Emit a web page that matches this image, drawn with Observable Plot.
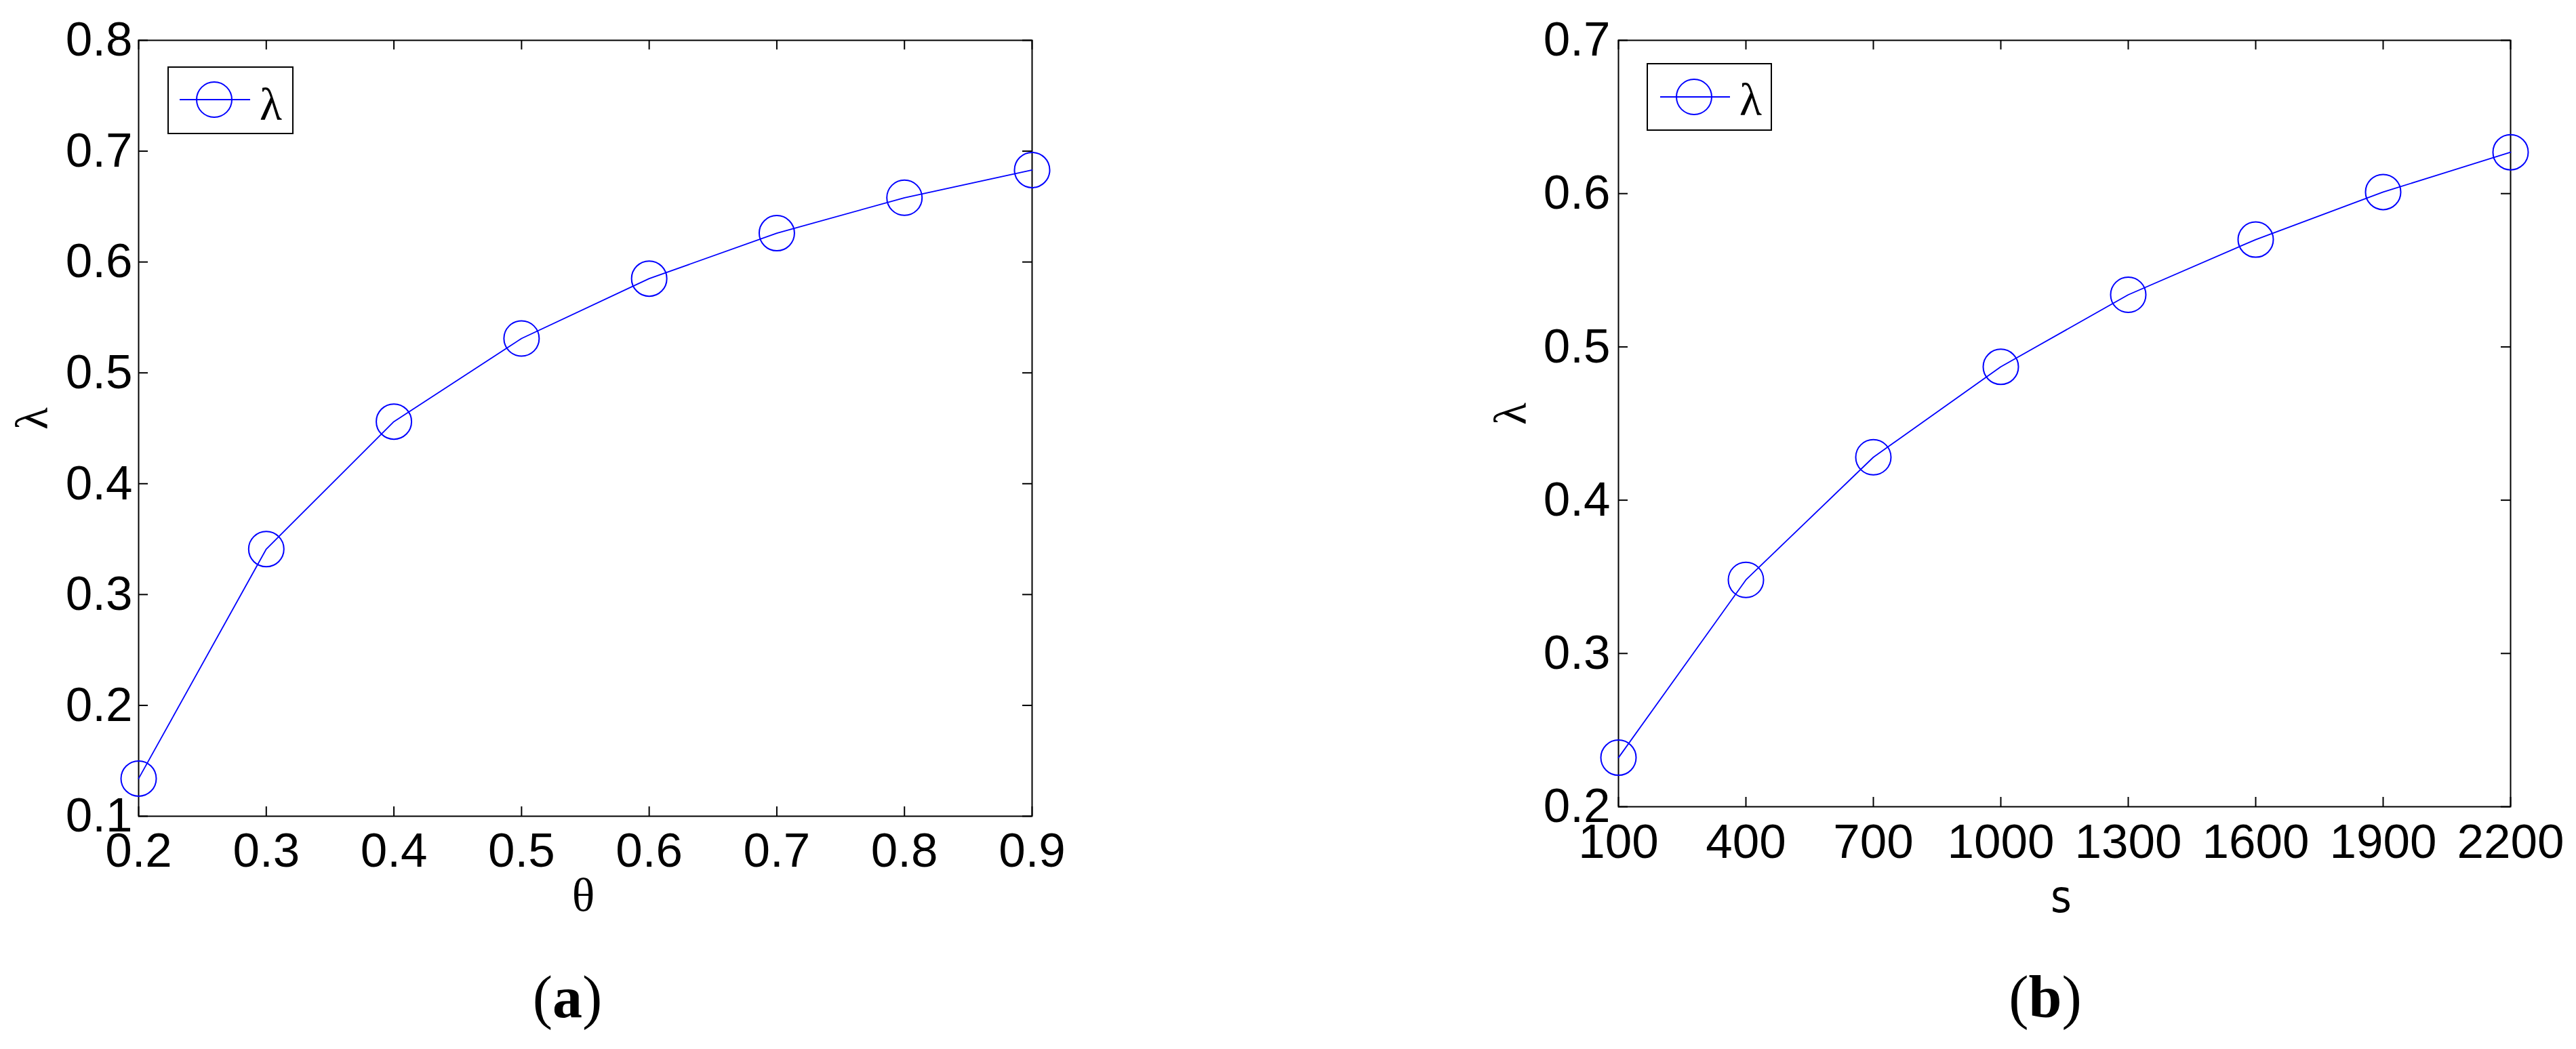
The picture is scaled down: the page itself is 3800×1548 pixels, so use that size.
<!DOCTYPE html>
<html>
<head>
<meta charset="utf-8">
<script src="https://cdn.jsdelivr.net/npm/d3@7"></script>
<script src="https://cdn.jsdelivr.net/npm/@observablehq/plot@0.6"></script>
<style>
html, body { margin: 0; padding: 0; background: #fff; }
#wrap { position: relative; width: 3800px; height: 1548px; overflow: hidden; background: #fff; }
.panel { position: absolute; top: 0; }
.caption { position: absolute; font-family: "Liberation Serif", "DejaVu Serif", serif; font-size: 88px; line-height: 88px; white-space: nowrap; transform: translateX(-50%); color: #000; }
.legend { position: absolute; overflow: visible; }
</style>
</head>
<body>
<div id="wrap"></div>
<script>
// ---- Data ----
const thetaValues = [0.2, 0.3, 0.4, 0.5, 0.6, 0.7, 0.8, 0.9];
const lambdaByTheta = [0.134, 0.341, 0.456, 0.531, 0.585, 0.626, 0.658, 0.683];
const sValues = [100, 400, 700, 1000, 1300, 1600, 1900, 2200];
const lambdaByS = [0.232, 0.348, 0.428, 0.487, 0.534, 0.570, 0.601, 0.627];

const xTicksA = [0.2, 0.3, 0.4, 0.5, 0.6, 0.7, 0.8, 0.9];
const yTicksA = [0.1, 0.2, 0.3, 0.4, 0.5, 0.6, 0.7, 0.8];
const xTicksB = [100, 400, 700, 1000, 1300, 1600, 1900, 2200];
const yTicksB = [0.2, 0.3, 0.4, 0.5, 0.6, 0.7];

const seriesName = "λ";
const captions = ["a", "b"];
const xLabels = ["θ", "s"];

const BLUE = "#0000ff";
const SANS = "'Liberation Sans', Arial, Helvetica, sans-serif";
const SERIF = "'Liberation Serif', 'DejaVu Serif', serif";

function panel(cfg) {
  const data = cfg.xs.map((x, i) => ({x, y: cfg.ys[i]}));
  const fh = cfg.height - cfg.mTop - cfg.mBottom;
  const fw = cfg.width - cfg.mLeft - cfg.mRight;
  const T = 14;
  const tickStyle = {stroke: "#000", strokeWidth: 2};
  return Plot.plot({
    width: cfg.width,
    height: cfg.height,
    marginLeft: cfg.mLeft,
    marginRight: cfg.mRight,
    marginTop: cfg.mTop,
    marginBottom: cfg.mBottom,
    style: {background: "white", color: "#000", fontFamily: SANS, fontSize: "71px", overflow: "visible"},
    x: {domain: cfg.xDomain},
    y: {domain: cfg.yDomain},
    marks: [
      Plot.tickX(cfg.xTicks, {x: d => d, insetTop: fh - T, ...tickStyle}),
      Plot.tickX(cfg.xTicks, {x: d => d, insetBottom: fh - T, ...tickStyle}),
      Plot.tickY(cfg.yTicks, {y: d => d, insetRight: fw - T, ...tickStyle}),
      Plot.tickY(cfg.yTicks, {y: d => d, insetLeft: fw - T, ...tickStyle}),
      Plot.frame({stroke: "#000", strokeWidth: 2}),
      Plot.axisX(cfg.xTicks, {tickSize: 0, tickPadding: cfg.xPad, tickFormat: cfg.xFormat, fontSize: 71, fontFamily: SANS, label: null}),
      Plot.axisY(cfg.yTicks, {tickSize: 0, tickPadding: cfg.yPad, tickFormat: d3.format(".1f"), fontSize: 71, fontFamily: SANS, label: null}),
      Plot.line(data, {x: "x", y: "y", stroke: BLUE, strokeWidth: 1.8}),
      Plot.dot(data, {x: "x", y: "y", r: 26, stroke: BLUE, strokeWidth: 2, fill: "none"}),
      Plot.text([seriesName], {text: d => d, frameAnchor: "left", dx: cfg.yLabelDx, dy: 2, rotate: -90, fontSize: 68, fontFamily: SERIF}),
      Plot.text([cfg.xLabel], {text: d => d, frameAnchor: "bottom", dx: cfg.xLabelDx, dy: cfg.xLabelDy, fontSize: cfg.xLabelSize, fontFamily: cfg.xLabelFont})
    ]
  });
}

function legend(left, top, w, h, lineX1, lineX2, cx, cy, textX, textY) {
  const ns = "http://www.w3.org/2000/svg";
  const svg = document.createElementNS(ns, "svg");
  svg.setAttribute("class", "legend");
  svg.setAttribute("width", w);
  svg.setAttribute("height", h);
  svg.style.left = left + "px";
  svg.style.top = top + "px";
  svg.innerHTML =
    `<rect x="1" y="1" width="${w - 2}" height="${h - 2}" fill="#fff" stroke="#000" stroke-width="2"/>` +
    `<line x1="${lineX1}" x2="${lineX2}" y1="${cy}" y2="${cy}" stroke="${BLUE}" stroke-width="2"/>` +
    `<circle cx="${cx}" cy="${cy}" r="26" fill="none" stroke="${BLUE}" stroke-width="2"/>` +
    `<text x="${textX}" y="${textY}" font-family="${SERIF.replace(/'/g, "")}" font-size="68" fill="#000">${seriesName}</text>`;
  return svg;
}

const wrap = document.getElementById("wrap");

const left = panel({
  xs: thetaValues, ys: lambdaByTheta,
  xDomain: [0.2, 0.9], yDomain: [0.1, 0.8],
  xTicks: xTicksA, yTicks: yTicksA,
  width: 1900, height: 1400, mLeft: 204, mRight: 378, mTop: 59, mBottom: 196,
  xPad: 24, yPad: 9, xFormat: d3.format(".1f"),
  yLabelDx: -156, xLabel: xLabels[0], xLabelDx: -3, xLabelDy: 139, xLabelSize: 70, xLabelFont: SERIF
});
const pa = document.createElement("div");
pa.className = "panel"; pa.style.left = "0px";
pa.appendChild(left);
wrap.appendChild(pa);

const right = panel({
  xs: sValues, ys: lambdaByS,
  xDomain: [100, 2200], yDomain: [0.2, 0.7],
  xTicks: xTicksB, yTicks: yTicksB,
  width: 1900, height: 1400, mLeft: 487, mRight: 97, mTop: 59, mBottom: 210,
  xPad: 25, yPad: 12, xFormat: d3.format("d"),
  yLabelDx: -158, xLabel: xLabels[1], xLabelDx: -5, xLabelDy: 155, xLabelSize: 66, xLabelFont: "'Liberation Sans Narrow', 'DejaVu Sans Condensed', " + SANS
});
const pb = document.createElement("div");
pb.className = "panel"; pb.style.left = "1900px";
pb.appendChild(right);
wrap.appendChild(pb);

wrap.appendChild(legend(247, 98, 186, 100, 18, 122, 69, 49, 136, 79));
wrap.appendChild(legend(2429, 93, 185, 100, 20, 123, 70, 50, 137, 77));

[[captions[0], 837], [captions[1], 3017]].forEach(([c, x]) => {
  const d = document.createElement("div");
  d.className = "caption";
  d.style.left = x + "px";
  d.style.top = "1428px";
  d.innerHTML = `(<b>${c}</b>)`;
  wrap.appendChild(d);
});
</script>
</body>
</html>
